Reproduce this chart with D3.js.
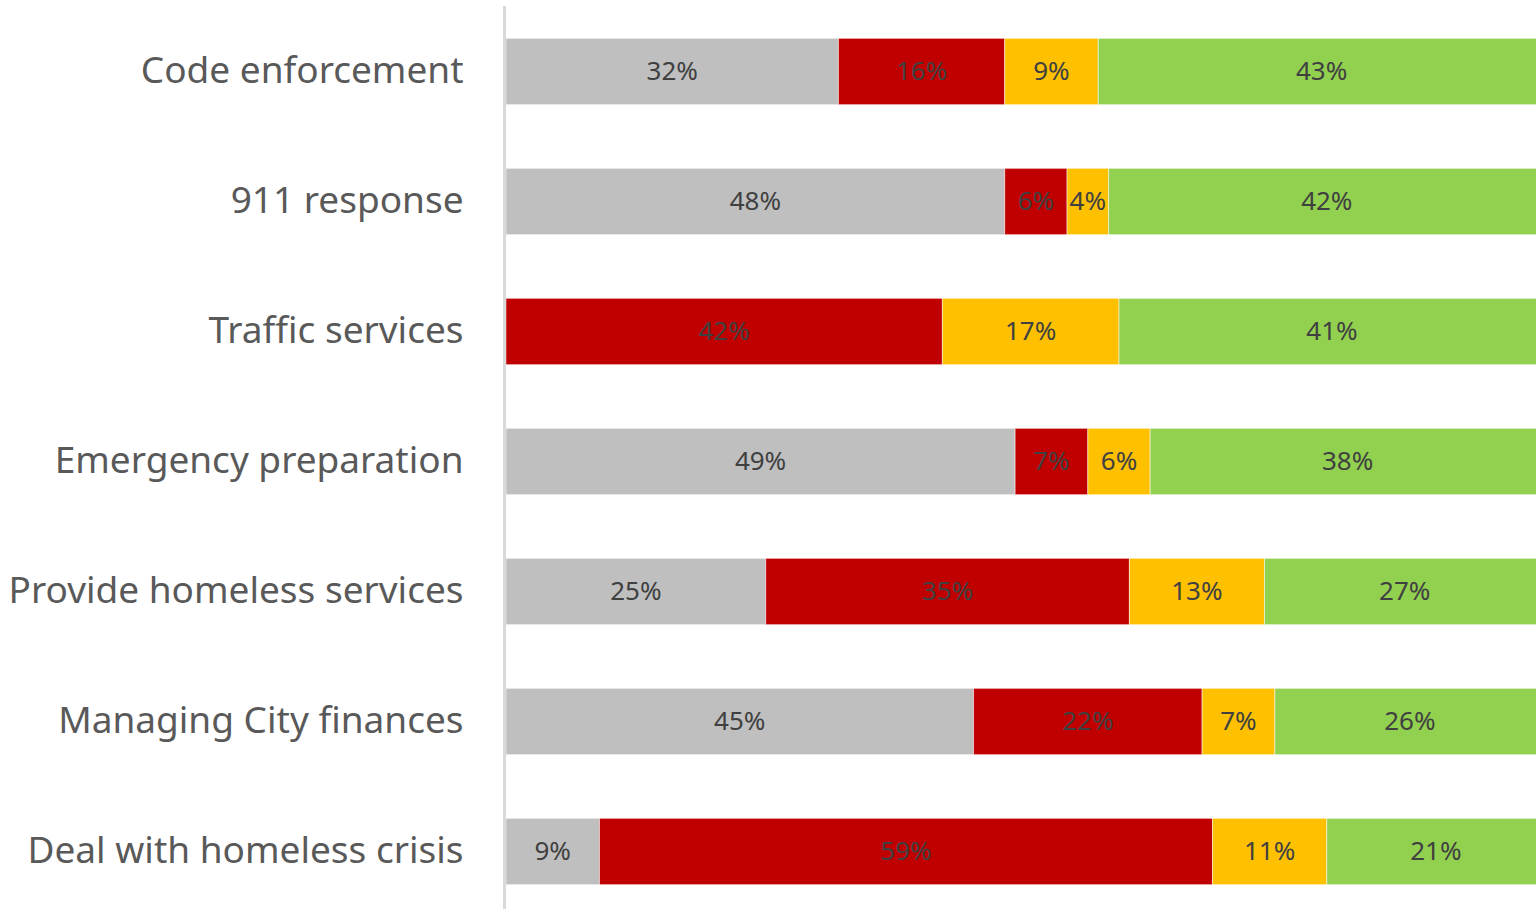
<!DOCTYPE html>
<head>
  <meta charset="utf-8" />
  <script src="https://d3js.org/d3.v7.min.js"></script>
  <style>
    body { margin: 0; background: #fff; }
    svg { display: block; font-family: "Noto Sans", "Open Sans", sans-serif; }
  </style>
</head>
<body>
  <svg class="chart" width="1536" height="909"></svg>
  <script>
    const categories = [
      "Code enforcement",
      "911 response",
      "Traffic services",
      "Emergency preparation",
      "Provide homeless services",
      "Managing City finances",
      "Deal with homeless crisis"
    ];
    const series = ["gray", "red", "yellow", "green"];
    const grayValues = [32, 48, 0, 49, 25, 45, 9];
    const redValues = [16, 6, 42, 7, 35, 22, 59];
    const yellowValues = [9, 4, 17, 6, 13, 7, 11];
    const greenValues = [43, 42, 41, 38, 27, 26, 21];
    const colors = { gray: "#bfbfbf", red: "#c00000", yellow: "#ffc000", green: "#92d050" };

    const rows = categories.map((c, i) => ({
      name: c,
      gray: grayValues[i],
      red: redValues[i],
      yellow: yellowValues[i],
      green: greenValues[i]
    }));
    const stacked = d3.stack().keys(series)(rows);

    const svg = d3.select(".chart");
    // plot runs a little past the right edge of the picture
    const x = d3.scaleLinear().domain([0, 100]).range([506, 1545]);
    const y = d3.scaleBand().domain(categories).range([6.5, 916.5]).paddingInner(0.49).paddingOuter(0.245);

    const layers = svg.append("g").selectAll("g").data(stacked).enter().append("g")
      .attr("fill", (d) => colors[d.key]);

    layers.selectAll("rect")
      .data((d) => d.map((p) => ({ key: d.key, p })))
      .enter()
      .append("rect")
      .attr("x", (d) => x(d.p[0]))
      .attr("y", (d) => y(d.p.data.name))
      .attr("width", (d) => x(d.p[1]) - x(d.p[0]))
      .attr("height", y.bandwidth())
      .attr("stroke", "#fff")
      .attr("stroke-opacity", 0.5)
      .attr("stroke-width", 1);

    layers.selectAll("text")
      .data((d) => d.filter((p) => p[1] - p[0] > 0))
      .enter()
      .append("text")
      .attr("x", (d) => (x(d[0]) + x(d[1])) / 2)
      .attr("y", (d) => y(d.data.name) + y.bandwidth() / 2)
      .attr("dy", "0.32em")
      .attr("text-anchor", "middle")
      .attr("fill", "#404040")
      .attr("font-size", "26px")
      .text((d) => (d[1] - d[0]) + "%");

    // category axis
    const axis = svg.append("g").attr("transform", "translate(504.5,0)")
      .call(d3.axisLeft(y).tickSize(0).tickPadding(41));
    axis.select(".domain").attr("d", "M0,6V909").attr("stroke", "#d9d9d9").attr("stroke-width", 3);
    axis.selectAll("text")
      .attr("font-size", "37px")
      .attr("dy", "0.3em")
      .attr("fill", "#595959")
      .attr("font-family", "Noto Sans, sans-serif");
  </script>
</body>
